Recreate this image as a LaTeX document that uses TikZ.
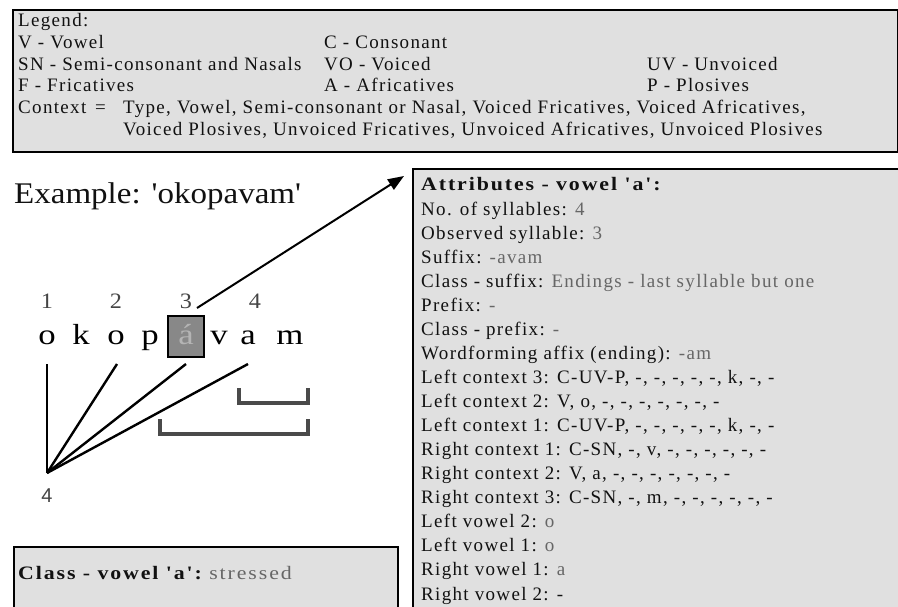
\documentclass[tikz,border=0pt]{standalone}
\usepackage{fontspec}
\setmainfont{Liberation Serif}
\newfontfamily\txtfont{Liberation Serif}[LetterSpace=7]
\newfontfamily\hdfont{Liberation Serif}[FakeStretch=1.15,LetterSpace=10]
\newfontfamily\bigfont{Liberation Serif}[FakeStretch=1.1]
\newfontfamily\letfont{Liberation Serif}[FakeStretch=1.2]
\newfontfamily\numsans{Liberation Sans}
\usetikzlibrary{arrows.meta}
\definecolor{panelfill}{HTML}{E0E0E0}
\definecolor{valgray}{HTML}{666666}
\definecolor{numgray}{HTML}{444444}
\definecolor{bracketgray}{HTML}{4A4A4A}
\definecolor{hlfill}{HTML}{888888}
\definecolor{hltext}{HTML}{B4B4B4}
\definecolor{ink}{HTML}{111111}
\begin{document}
\begin{tikzpicture}[x=1pt,y=-1pt,
  panel/.style={draw=black, line width=2.2pt, fill=panelfill, inner sep=0pt},
  lg/.style={anchor=base west, inner sep=0pt, font=\txtfont\fontsize{19}{21}\selectfont, text=ink},
  hd/.style={anchor=base west, inner sep=0pt, font=\hdfont\fontsize{19}{21}\selectfont, text=ink},
  num/.style={anchor=base, inner sep=0pt, font=\bigfont\fontsize{22}{24}\selectfont, text=numgray},
  let/.style={anchor=base, inner sep=0pt, font=\letfont\fontsize{29}{31}\selectfont, text=black},
  fan/.style={draw=black, line width=2.4pt},
  brk/.style={draw=bracketgray, line width=4pt},
  pointer/.style={draw=black, line width=2pt, -{Triangle[length=16pt,width=12pt]}}
]
\useasboundingbox (0,0) rectangle (898,606);

% ---------- legend ----------
\node[panel, anchor=north west, minimum width=885pt, minimum height=142pt] (legend) at (12,9) {};
\node[lg] (lgt) at (18,26.5) {Legend:};
\node[lg] (l2a) at (18,48.3) {V - Vowel};
\node[lg] (l2b) at (324,48.3) {C - Consonant};
\node[lg] (l3a) at (18,70) {SN - Semi-consonant and Nasals};
\node[lg] (l3b) at (324,70) {VO - Voiced};
\node[lg] (l3c) at (647,70) {UV - Unvoiced};
\node[lg] (l4a) at (18,91.8) {F - Fricatives};
\node[lg] (l4b) at (324,91.8) {A - Africatives};
\node[lg] (l4c) at (647,91.8) {P - Plosives};
\node[lg] (l5a) at (18,113.5) {Context};
\node[lg] (l5b) at (95,113.5) {=};
\node[lg] (l5c) at (123,113.5) {Type, Vowel, Semi-consonant or Nasal, Voiced Fricatives, Voiced Africatives,};
\node[lg] (l6c) at (123,135.3) {Voiced Plosives, Unvoiced Fricatives, Unvoiced Africatives, Unvoiced Plosives};

% ---------- attributes ----------
\node[panel, anchor=north west, minimum width=520pt, minimum height=470pt] (attr) at (412,168) {};
\node[hd] (atitle) at (421,190) {\bfseries Attributes - vowel 'a':};
\node[lg] (a0) at (421,215.0) {No. of syllables: \textcolor{valgray}{4}};
\node[lg] (a1) at (421,239.1) {Observed syllable: \textcolor{valgray}{3}};
\node[lg] (a2) at (421,263.1) {Suffix: \textcolor{valgray}{-avam}};
\node[lg] (a3) at (421,287.2) {Class - suffix: \textcolor{valgray}{Endings - last syllable but one}};
\node[lg] (a4) at (421,311.2) {Prefix: \textcolor{valgray}{-}};
\node[lg] (a5) at (421,335.3) {Class - prefix: \textcolor{valgray}{-}};
\node[lg] (a6) at (421,359.4) {Wordforming affix (ending): \textcolor{valgray}{-am}};
\node[lg] (a7) at (421,383.4) {Left context 3: C-UV-P, -, -, -, -, -, k, -, -};
\node[lg] (a8) at (421,407.5) {Left context 2: V, o, -, -, -, -, -, -, -};
\node[lg] (a9) at (421,431.5) {Left context 1: C-UV-P, -, -, -, -, -, k, -, -};
\node[lg] (a10) at (421,455.6) {Right context 1: C-SN, -, v, -, -, -, -, -, -};
\node[lg] (a11) at (421,479.7) {Right context 2: V, a, -, -, -, -, -, -, -};
\node[lg] (a12) at (421,503.7) {Right context 3: C-SN, -, m, -, -, -, -, -, -};
\node[lg] (a13) at (421,527.8) {Left vowel 2: \textcolor{valgray}{o}};
\node[lg] (a14) at (421,551.8) {Left vowel 1: \textcolor{valgray}{o}};
\node[lg] (a15) at (421,575.9) {Right vowel 1: \textcolor{valgray}{a}};
\node[lg] (a16) at (421,600.0) {Right vowel 2: -};

% ---------- class box ----------
\node[panel, anchor=north west, minimum width=384pt, minimum height=80pt] (cls) at (13,546) {};
\node[hd] (clst) at (18,579) {\bfseries Class - vowel 'a':\mdseries\ \textcolor{valgray}{stressed}};

% ---------- example ----------
\node[anchor=base west, inner sep=0pt, font=\bigfont\fontsize{30}{32}\selectfont, text=ink] (ex) at (14,203) {Example: 'okopavam'};

\node[num] (n1) at (47,308) {1};
\node[num] (n2) at (116,308) {2};
\node[num] (n3) at (186,308) {3};
\node[num] (n4) at (255,308) {4};

\node[draw=black, line width=2pt, fill=hlfill, minimum width=36pt, minimum height=41pt, inner sep=0pt] (hl) at (186,336.5) {};
\node[let] (c1) at (47,344) {o};
\node[let] (c2) at (81,344) {k};
\node[let] (c3) at (116,344) {o};
\node[let] (c4) at (150,344) {p};
\node[let, text=hltext] (c5) at (186,344) {á};
\node[let] (c6) at (219,344) {v};
\node[let] (c7) at (248,344) {a};
\node[let] (c8) at (290,344) {m};

\coordinate (s1) at (47,364);
\coordinate (s2) at (117,364);
\coordinate (s3) at (186,364);
\coordinate (s4) at (248,364);
\coordinate (apex) at (47,473);
\draw[fan] (s1) -- (apex);
\draw[fan] (s2) -- (apex);
\draw[fan] (s3) -- (apex);
\draw[fan] (s4) -- (apex);
\node[anchor=center, inner sep=0pt, font=\numsans\fontsize{20}{22}\selectfont, text=numgray] (cnt) at (47,496) {4};

% brackets
\draw[brk] (239,388) -- (239,402.5) -- (308,402.5) -- (308,388);
\draw[brk] (160,419) -- (160,433.5) -- (308,433.5) -- (308,419);

% pointer arrow
\coordinate (astart) at (197,308);
\draw[pointer] (astart) -- ([xshift=-8pt,yshift=-8pt]attr.north west);
\end{tikzpicture}
\end{document}
